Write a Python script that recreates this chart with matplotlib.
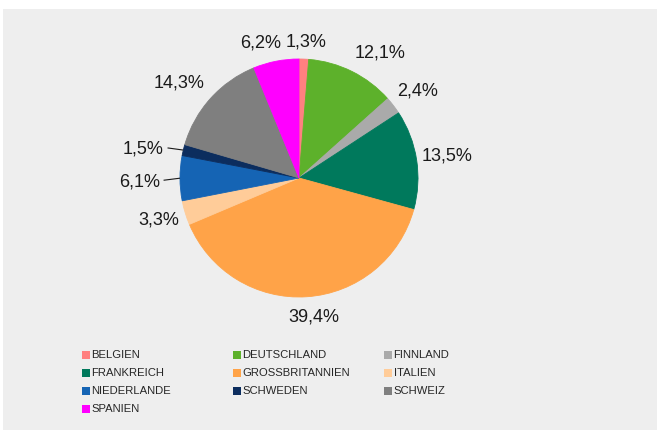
import numpy as np
import matplotlib
matplotlib.use("Agg")
import matplotlib.pyplot as plt
from matplotlib.patches import Rectangle

plt.rcParams['font.family'] = ['Liberation Sans', 'DejaVu Sans']

countries = ["BELGIEN", "DEUTSCHLAND", "FINNLAND", "FRANKREICH", "GROSSBRITANNIEN",
             "ITALIEN", "NIEDERLANDE", "SCHWEDEN", "SCHWEIZ", "SPANIEN"]
shares = [1.3, 12.1, 2.4, 13.5, 39.4, 3.3, 6.1, 1.5, 14.3, 6.2]
labels = ["1,3%", "12,1%", "2,4%", "13,5%", "39,4%", "3,3%", "6,1%", "1,5%", "14,3%", "6,2%"]

colors = ["#ff8080", "#5db12b", "#aaaaaa", "#00795c", "#ffa348",
          "#ffcc99", "#1564b4", "#0c2d5e", "#7f7f7f", "#ff00ff"]
# label placement: radial distance (pie radii), angular shift (deg), leader line
label_r = [1.15, 1.26, 1.24, 1.26, 1.17, 1.23, 1.34, 1.33, 1.29, 1.19]
label_shift = [-0.6, -6.5, -0.9, -0.2, 2.4, -0.8, 0.9, 2.8, 3.5, 4.6]
leader = [False, False, False, False, False, False, True, True, False, False]

W, H = 657, 430
fig = plt.figure(figsize=(W / 100, H / 100), dpi=100)
fig.patch.set_facecolor("white")
fig.patches.append(Rectangle((3 / W, 0), 1 - 3 / W, (H - 9) / H,
                             transform=fig.transFigure, facecolor="#eeeeee",
                             edgecolor="none", zorder=-10))

cx, cy, R = 299, 178, 119
half = 170
ax = fig.add_axes([(cx - half) / W, (H - (cy + half)) / H, 2 * half / W, 2 * half / H])
ax.set_zorder(5)
ax.axis("off")
ax.patch.set_alpha(0)

wedges, _ = ax.pie(shares, colors=colors, startangle=90, counterclock=False,
                   radius=1.0, wedgeprops=dict(linewidth=0.6))
for w, c in zip(wedges, colors):
    w.set_edgecolor(c)
ax.set_xlim(-half / R, half / R)
ax.set_ylim(-half / R, half / R)
ax.set_aspect("equal")

for w, lab, r, sh, ld in zip(wedges, labels, label_r, label_shift, leader):
    mid_deg = (w.theta1 + w.theta2) / 2
    ang = np.deg2rad(mid_deg + sh)
    tx, ty = r * np.cos(ang), r * np.sin(ang)
    ax.text(tx, ty - 1.0 / R, lab, ha="center", va="center", fontsize=13, color="#1a1a1a")
    if ld:
        mid = np.deg2rad(mid_deg)
        x0, y0 = np.cos(mid), np.sin(mid)
        ax.plot([tx + 24 / R, x0], [ty + 0.5 / R, y0], color="#1a1a1a", lw=0.8,
                solid_capstyle="butt")

# legend (row-major, 3 columns)
x0, dx = 82, 151
y0, dy = 355, 18
sq = 8
for i, (name, c) in enumerate(zip(countries, colors)):
    row, col = divmod(i, 3)
    x = x0 + col * dx
    y = y0 + row * dy
    fig.patches.append(Rectangle((x / W, (H - y - sq / 2) / H), sq / W, sq / H,
                                 transform=fig.transFigure, facecolor=c,
                                 edgecolor="none", zorder=2))
    fig.text((x + sq + 1.5) / W, (H - y) / H, name, ha="left", va="center",
             fontsize=8.1, color="#262626")

fig.savefig("out.png", dpi=100, facecolor=fig.get_facecolor())
